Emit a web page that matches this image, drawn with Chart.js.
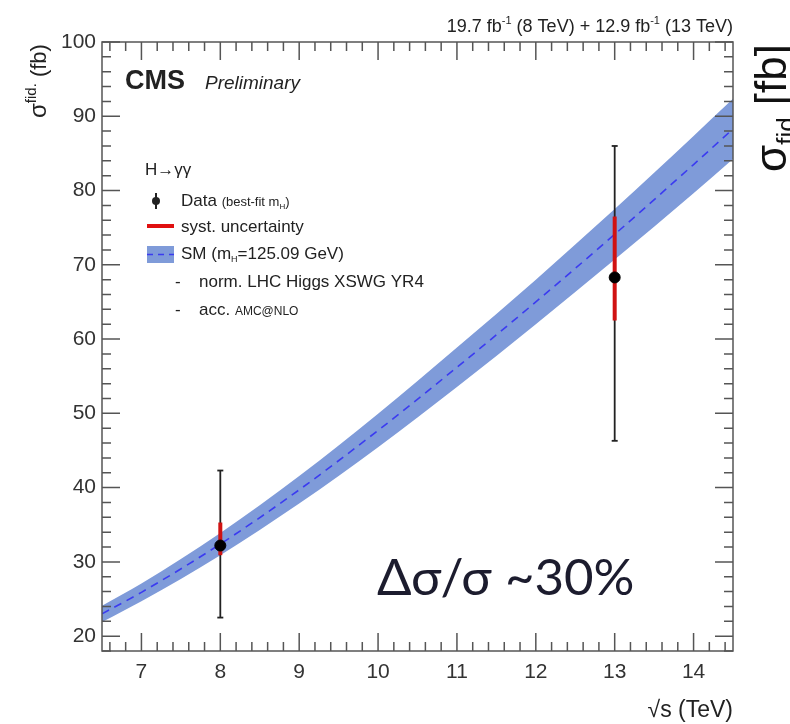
<!DOCTYPE html>
<html>
<head>
<meta charset="utf-8">
<script src="https://cdn.jsdelivr.net/npm/chart.js@4.4.0/dist/chart.umd.min.js"></script>
<style>
  html, body { margin: 0; padding: 0; background: #fff; }
  #wrap { width: 790px; height: 724px; }
</style>
</head>
<body>
<div id="wrap"><canvas id="xsChart" width="790" height="724"></canvas></div>
<script>
// SM prediction vs sqrt(s)
const sqrtS = [6.5, 7, 8, 9, 10, 11, 12, 13, 14, 14.5];
const smCentral = [23.0, 25.9, 32.4, 39.7, 47.7, 56.2, 65.0, 74.1, 83.5, 88.3];
const smUpper = [24.1, 27.1, 33.9, 41.55, 49.95, 58.85, 68.0, 77.5, 87.35, 92.35];
const smLower = [21.9, 24.7, 30.9, 37.85, 45.45, 53.55, 62.0, 70.7, 79.65, 84.25];

// measurements
const dataX = [8, 13];
const dataY = [32.2, 68.3];
const statLow = [22.5, 46.3];
const statHigh = [42.3, 86.0];
const systLow = [30.9, 62.5];
const systHigh = [35.3, 76.5];

const xTicks = [7, 8, 9, 10, 11, 12, 13, 14];
const yTicks = [20, 30, 40, 50, 60, 70, 80, 90, 100];

const bandColor = '#7f9bd9';
const lineFont = '"Liberation Sans", Arial, sans-serif';

const pts = arr => sqrtS.map((x, i) => ({ x: x, y: arr[i] }));

const datasets = [
    { label: 'data', data: dataX.map((x, i) => ({ x: x, y: dataY[i] })), showLine: false,
      pointRadius: 5.5, pointBackgroundColor: '#000', pointBorderColor: '#000', order: 0 },
    { label: 'smLower', data: pts(smLower), borderWidth: 0, pointRadius: 0, fill: false,
      cubicInterpolationMode: 'monotone', order: 6 },
    { label: 'smUpper', data: pts(smUpper), borderWidth: 0, pointRadius: 0,
      fill: '-1', backgroundColor: bandColor, cubicInterpolationMode: 'monotone', order: 5 },
    { label: 'smCentral', data: pts(smCentral), borderColor: '#3b3bf0', borderWidth: 1.6,
      borderDash: [8, 6], pointRadius: 0, fill: false, cubicInterpolationMode: 'monotone', order: 4 }
];

dataX.forEach((x, i) => {
    datasets.push({ label: 'stat' + i, data: [{ x: x, y: statLow[i] }, { x: x, y: statHigh[i] }],
        borderColor: '#222', borderWidth: 1.8, pointStyle: 'line', pointRadius: 3,
        pointBorderColor: '#222', pointBorderWidth: 1.8, fill: false, order: 3 });
    datasets.push({ label: 'syst' + i, data: [{ x: x, y: systLow[i] }, { x: x, y: systHigh[i] }],
        borderColor: '#d01212', borderWidth: 4, pointRadius: 0, fill: false, order: 2 });
});

function drawRich(ctx, parts, x, y) {
    let cx = x;
    parts.forEach(p => {
        ctx.font = p.font;
        ctx.fillText(p.t, cx, y + (p.dy || 0));
        cx += ctx.measureText(p.t).width;
    });
}
function richWidth(ctx, parts) {
    let w = 0;
    parts.forEach(p => { ctx.font = p.font; w += ctx.measureText(p.t).width; });
    return w;
}

const decorations = {
    id: 'decorations',
    afterDraw(chart) {
        const ctx = chart.ctx;
        const a = chart.chartArea;
        const xs = chart.scales.x, ys = chart.scales.y;
        ctx.save();
        ctx.strokeStyle = '#555';
        ctx.lineWidth = 1.5;
        ctx.strokeRect(a.left, a.top, a.right - a.left, a.bottom - a.top);

        // inward ticks on all sides
        ctx.beginPath();
        for (let k = 18; k <= 100; k += 2) {
            const py = ys.getPixelForValue(k);
            const len = k % 10 === 0 ? 18 : 9;
            ctx.moveTo(a.left, py); ctx.lineTo(a.left + len, py);
            ctx.moveTo(a.right, py); ctx.lineTo(a.right - len, py);
        }
        for (let k = 66; k <= 144; k += 2) {
            const px = xs.getPixelForValue(k / 10);
            const len = k % 10 === 0 ? 18 : 9;
            ctx.moveTo(px, a.bottom); ctx.lineTo(px, a.bottom - len);
            ctx.moveTo(px, a.top); ctx.lineTo(px, a.top + len);
        }
        ctx.stroke();

        ctx.fillStyle = '#222';
        ctx.textBaseline = 'alphabetic';
        ctx.textAlign = 'left';

        // CMS label
        ctx.font = 'bold 27px ' + lineFont;
        ctx.fillText('CMS', 125, 89);
        ctx.font = 'italic 19px ' + lineFont;
        ctx.fillText('Preliminary', 205, 89);

        // lumi text
        const lumi = [
            { t: '19.7 fb', font: '18px ' + lineFont },
            { t: '-1', font: '11px ' + lineFont, dy: -8 },
            { t: ' (8 TeV) + 12.9 fb', font: '18px ' + lineFont },
            { t: '-1', font: '11px ' + lineFont, dy: -8 },
            { t: ' (13 TeV)', font: '18px ' + lineFont }
        ];
        drawRich(ctx, lumi, a.right - richWidth(ctx, lumi), 32);

        // x title
        ctx.font = '23px ' + lineFont;
        ctx.textAlign = 'right';
        ctx.fillText('\u221As (TeV)', a.right, 717);
        ctx.textAlign = 'left';

        // y title
        ctx.save();
        ctx.translate(46, 118);
        ctx.rotate(-Math.PI / 2);
        drawRich(ctx, [
            { t: '\u03C3', font: '24px ' + lineFont },
            { t: 'fid.', font: '15px ' + lineFont, dy: -10 },
            { t: ' (fb)', font: '22px ' + lineFont }
        ], 0, 0);
        ctx.restore();

        // clipped label on the right edge
        ctx.save();
        ctx.translate(786, 172);
        ctx.rotate(-Math.PI / 2);
        ctx.fillStyle = '#111';
        drawRich(ctx, [
            { t: '\u03C3', font: '44px ' + lineFont },
            { t: 'fid', font: '26px ' + lineFont, dy: 9 },
            { t: ' [fb]', font: '44px ' + lineFont }
        ], 0, 0);
        ctx.restore();

        // legend
        ctx.fillStyle = '#222';
        ctx.font = '17px ' + lineFont;
        ctx.fillText('H\u2192\u03B3\u03B3', 145, 175);

        ctx.beginPath();
        ctx.arc(156, 201, 4, 0, Math.PI * 2);
        ctx.fill();
        ctx.fillRect(155, 193, 2, 16);
        drawRich(ctx, [
            { t: 'Data ', font: '17px ' + lineFont },
            { t: '(best-fit m', font: '13px ' + lineFont },
            { t: 'H', font: '8px ' + lineFont, dy: 3 },
            { t: ')', font: '13px ' + lineFont }
        ], 181, 206);

        ctx.fillStyle = '#e01010';
        ctx.fillRect(147, 224, 27, 4);
        ctx.fillStyle = '#222';
        ctx.font = '17px ' + lineFont;
        ctx.fillText('syst. uncertainty', 181, 232);

        ctx.fillStyle = bandColor;
        ctx.fillRect(147, 246, 27, 17);
        ctx.strokeStyle = '#3b3bf0';
        ctx.lineWidth = 1.6;
        ctx.setLineDash([6, 5]);
        ctx.beginPath(); ctx.moveTo(147, 254.5); ctx.lineTo(174, 254.5); ctx.stroke();
        ctx.setLineDash([]);
        ctx.fillStyle = '#222';
        drawRich(ctx, [
            { t: 'SM (m', font: '17px ' + lineFont },
            { t: 'H', font: '9px ' + lineFont, dy: 3 },
            { t: '=125.09 GeV)', font: '17px ' + lineFont }
        ], 181, 259);

        ctx.font = '17px ' + lineFont;
        ctx.fillText('-', 175, 287);
        ctx.fillText('norm. LHC Higgs XSWG YR4', 199, 287);
        ctx.fillText('-', 175, 315);
        drawRich(ctx, [
            { t: 'acc. ', font: '17px ' + lineFont },
            { t: 'AMC@NLO', font: '12px ' + lineFont }
        ], 199, 315);

        // annotation
        ctx.fillStyle = '#1c1c2e';
        ctx.font = '51px Lato, "Open Sans", sans-serif';
        ctx.fillText('\u0394\u03C3/\u03C3 ~30%', 377, 595);

        ctx.restore();
    }
};

new Chart(document.getElementById('xsChart'), {
    type: 'line',
    data: { datasets: datasets },
    options: {
        responsive: false,
        animation: false,
        devicePixelRatio: 1,
        layout: { padding: { top: 42, right: 57, bottom: 0, left: 0 } },
        plugins: { legend: { display: false }, tooltip: { enabled: false } },
        scales: {
            x: {
                type: 'linear', min: 6.5, max: 14.5,
                grid: { display: false, drawTicks: false },
                border: { display: false },
                afterBuildTicks: s => { s.ticks = xTicks.map(v => ({ value: v })); },
                afterFit: s => { s.height = 73; },
                ticks: { color: '#333', padding: 9, font: { size: 21, family: lineFont } }
            },
            y: {
                type: 'linear', min: 18, max: 100,
                grid: { display: false, drawTicks: false },
                border: { display: false },
                afterBuildTicks: s => { s.ticks = yTicks.map(v => ({ value: v })); },
                afterFit: s => { s.width = 102; },
                ticks: { color: '#333', padding: 6, font: { size: 21, family: lineFont } }
            }
        }
    },
    plugins: [decorations]
});
</script>
</body>
</html>
